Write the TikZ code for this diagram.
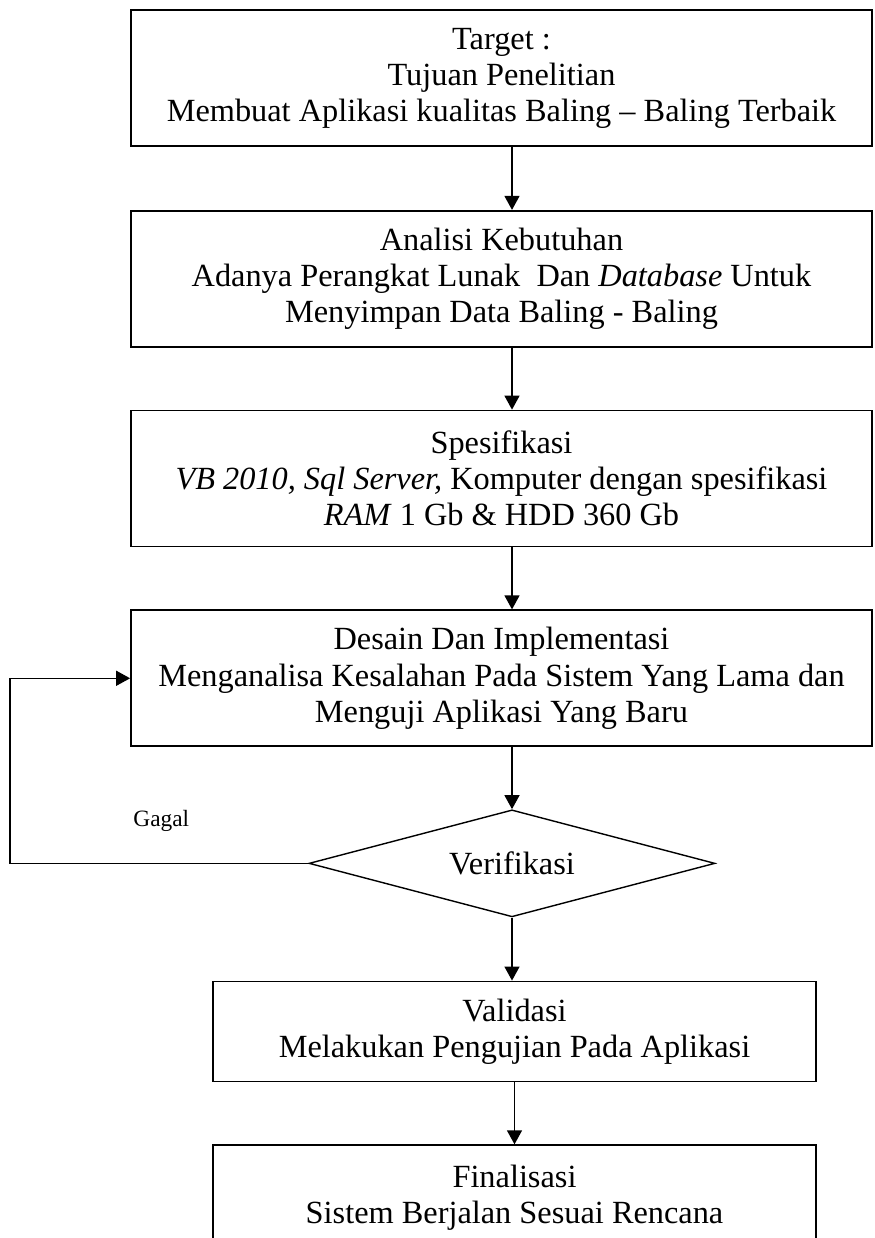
\documentclass[tikz,border=0pt]{standalone}
\usepackage{fontspec}
\setmainfont{Liberation Serif}
\usetikzlibrary{shapes.geometric, arrows.meta, positioning, calc}
\tikzstyle{box} = [rectangle, minimum width=14.82cm, minimum height=2.72cm, text centered, align=center, draw=black, line width=1pt, font=\fontsize{18.4}{20.5}\selectfont]
\tikzstyle{smallbox} = [box, minimum width=12.06cm, minimum height=2cm]
\tikzstyle{decision} = [diamond, aspect=3.8, minimum width=8.12cm, minimum height=2.14cm, inner sep=0pt, text centered, draw=black, line width=0.8pt, font=\fontsize{18.4}{20.5}\selectfont]
\tikzstyle{lbl} = [font=\fontsize{13.3}{15}\selectfont]
\tikzstyle{arrow} = [line width=0.8pt, -{Triangle[length=0.28cm, width=0.3cm]}]

\begin{document}
\begin{tikzpicture}
    \useasboundingbox (0,0) rectangle (17.48,-24.76);
    \clip (0,0) rectangle (17.48,-24.76);

    % Process steps
    \node (tgt) [box] at (10.03,-1.56) {Target :\\Tujuan Penelitian\\Membuat Aplikasi kualitas Baling – Baling Terbaik};
    \node (ana) [box, below=1.26cm of tgt] {Analisi Kebutuhan\\Adanya Perangkat Lunak~ Dan \textit{Database} Untuk\\Menyimpan Data Baling - Baling};
    \node (spe) [box, below=1.24cm of ana] {Spesifikasi\\\textit{VB 2010, Sql Server,} Komputer dengan spesifikasi\\\textit{RAM} 1 Gb \& HDD 360 Gb};
    \node (des) [box, below=1.24cm of spe] {Desain Dan Implementasi\\Menganalisa Kesalahan Pada Sistem Yang Lama dan\\Menguji Aplikasi Yang Baru};
    \node (ver) [decision, below=1.24cm of des, xshift=0.21cm] {Verifikasi};
    \node (val) [smallbox, below=1.26cm of ver, xshift=0.05cm] {Validasi\\Melakukan Pengujian Pada Aplikasi};
    \node (fin) [smallbox, below=1.24cm of val, minimum height=2.1cm] {Finalisasi\\Sistem Berjalan Sesuai Rencana};

    % Loop back
    \coordinate (back) at ($(des.west)+(-2.4,0)$);
    \node (gagal) [lbl] at ($(ver.west)+(-2.94,0.84)$) {Gagal};

    % Arrows
    \draw [arrow] (tgt.south -| ver.north) -- (ana.north -| ver.north);
    \draw [arrow] (ana.south -| ver.north) -- (spe.north -| ver.north);
    \draw [arrow] (spe.south -| ver.north) -- (des.north -| ver.north);
    \draw [arrow] (des.south -| ver.north) -- (ver.north);
    \draw [arrow] (ver.south) -- (val.north -| ver.south);
    \draw [arrow] (val) -- (fin);
    \draw [arrow] (ver.west) -| (back) -- (des.west);

\end{tikzpicture}
\end{document}
